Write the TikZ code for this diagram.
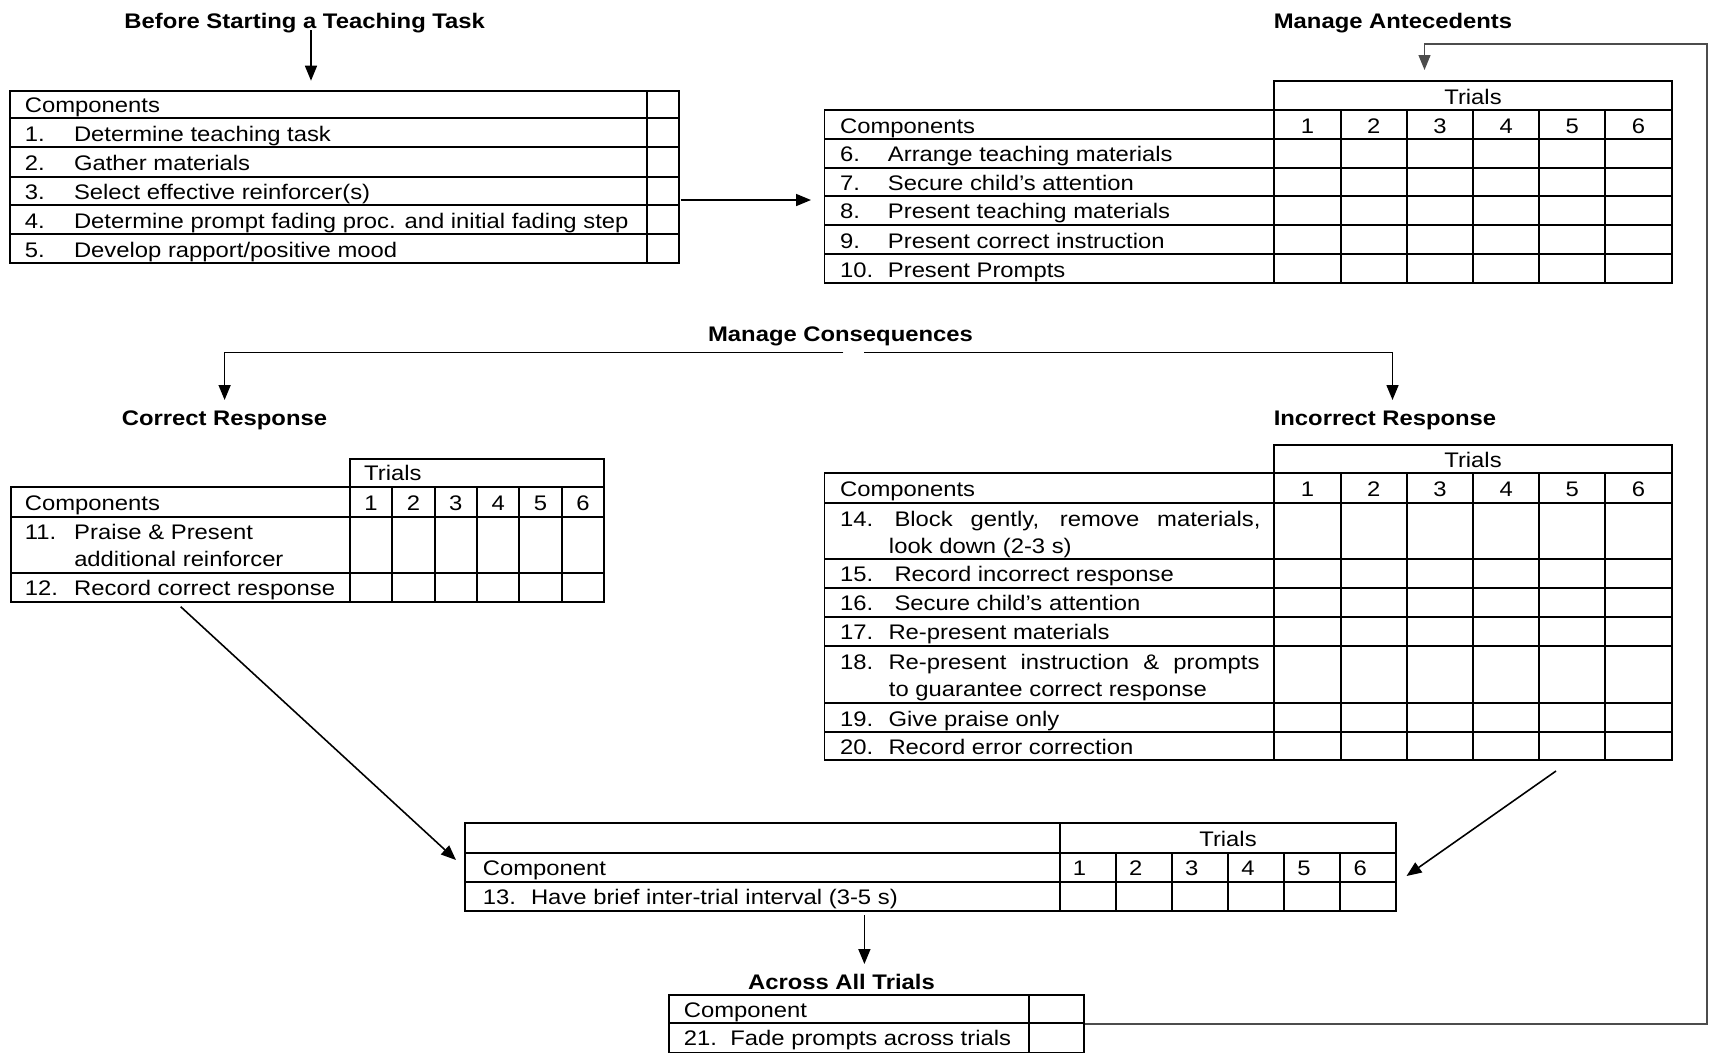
\documentclass[tikz,border=0pt]{standalone}
\usepackage{fontspec}
\setmainfont{Liberation Sans}[FakeStretch=1.13]
\usetikzlibrary{arrows.meta,fit}
\newcommand\compo[3][0.97cm]{\makebox[#1][l]{#2}#3}
\tikzset{
  tbl/.style={draw,line width=1.1pt,inner sep=0pt},
  cell/.style={line width=1.1pt},
  txt/.style={inner sep=0pt,anchor=base west,font=\fontsize{12}{15.9}\selectfont},
  num/.style={inner sep=0pt,anchor=base,font=\fontsize{12}{15.9}\selectfont},
  head/.style={inner sep=0pt,anchor=base,font=\fontsize{12}{15.9}\selectfont\bfseries},
  arr/.style={line width=0.9pt,-{Triangle[length=3mm,width=2.4mm]}},
  loopline/.style={line width=0.7pt,draw=black!70,-{Triangle[length=3mm,width=2.4mm]}}
}
\begin{document}
\begin{tikzpicture}[x=0.02cm,y=-0.02cm]
\fill[white] (0,0) rectangle (1716,1052);
\useasboundingbox (0,0) rectangle (1716,1052);

\node[head] (hBefore) at (304.7,28.3) {Before Starting a Teaching Task};
\node[head] (hAnte) at (1393,28.3) {Manage Antecedents};
\node[head] (hCons) at (840.5,341.7) {Manage Consequences};
\node[head] (hCorr) at (224.5,425) {Correct Response};
\node[head] (hInc) at (1385,425) {Incorrect Response};
\node[head] (hAll) at (841.4,989.3) {Across All Trials};

\node[tbl,fit={(9.8,90.7) (678.6,263.3)}] (tA) {};
\draw[cell] (647.3,90.7) -- (647.3,263.3);
\foreach \y in {118.3,147.3,176.7,205,234} \draw[cell] (9.8,\y) -- (678.6,\y);
\node[txt] at (24.5,112.5) {Components};
\node[txt] at (24.5,141.5) {\compo[0.984cm]{1.}{Determine teaching task}};
\node[txt] at (24.5,170.9) {\compo[0.984cm]{2.}{Gather materials}};
\node[txt] at (24.5,199.2) {\compo[0.984cm]{3.}{Select effective reinforcer(s)}};
\node[txt] at (24.5,228.2) {\compo[0.984cm]{4.}{Determine prompt fading proc. and initial fading step}};
\node[txt] at (24.5,257.5) {\compo[0.984cm]{5.}{Develop rapport/positive mood}};

\node[tbl,fit={(824.5,110) (1671.6,283.3)}] (tB) {};
\node[tbl,fit={(1274.4,80.7) (1671.6,110)}] (tBh) {};
\foreach \i in {0,...,5} \draw[cell] ({1274.4+66.2*\i},110) -- ({1274.4+66.2*\i},283.3);
\foreach \y in {139,167.7,196,224.7,254} \draw[cell] (824.5,\y) -- (1671.6,\y);
\node[num] at (1473,104.2) {Trials};
\foreach \i in {1,...,6} \node[num] at ({1274.4+66.2*\i-33.1},133.2) {\i};
\node[txt] at (839.7,133.2) {Components};
\node[txt] at (839.7,161.9) {\compo[0.958cm]{6.}{Arrange teaching materials}};
\node[txt] at (839.7,190.2) {\compo[0.958cm]{7.}{Secure child’s attention}};
\node[txt] at (839.7,218.9) {\compo[0.958cm]{8.}{Present teaching materials}};
\node[txt] at (839.7,248.2) {\compo[0.958cm]{9.}{Present correct instruction}};
\node[txt] at (839.7,277.5) {\compo[0.958cm]{10.}{Present Prompts}};

\node[tbl,fit={(10.7,486.7) (604.2,601.7)}] (tC) {};
\node[tbl,fit={(349.9,459) (604.2,486.7)}] (tCh) {};
\foreach \i in {0,...,5} \draw[cell] ({349.9+42.38*\i},486.7) -- ({349.9+42.38*\i},601.7);
\foreach \y in {516.7,572.7} \draw[cell] (10.7,\y) -- (604.2,\y);
\node[txt] at (363.8,480.9) {Trials};
\foreach \i in {1,...,6} \node[num] at ({349.9+42.38*\i-21.19},510.9) {\i};
\node[txt] at (24.5,510.9) {Components};
\node[txt] at (24.5,539.9) {\compo[0.988cm]{11.}{Praise \& Present}};
\node[txt] at (73.9,566.9) {additional reinforcer};
\node[txt] at (24.5,595.9) {\compo[0.988cm]{12.}{Record correct response}};

\node[tbl,fit={(824.5,473.3) (1671.6,760)}] (tD) {};
\node[tbl,fit={(1274.4,445) (1671.6,473.3)}] (tDh) {};
\foreach \i in {0,...,5} \draw[cell] ({1274.4+66.2*\i},473.3) -- ({1274.4+66.2*\i},760);
\foreach \y in {502.7,559,587.7,616.7,645.7,702.7,732} \draw[cell] (824.5,\y) -- (1671.6,\y);
\node[num] at (1473,467.5) {Trials};
\foreach \i in {1,...,6} \node[num] at ({1274.4+66.2*\i-33.1},496.9) {\i};
\node[txt] at (839.7,496.9) {Components};
\node[txt] at (839.7,526.2) {\compo[1.09cm]{14.}{\makebox[7.32cm][s]{Block gently, remove materials,}}};
\node[txt] at (888.6,553.2) {look down (2-3 s)};
\node[txt] at (839.7,581.9) {\compo[1.09cm]{15.}{Record incorrect response}};
\node[txt] at (839.7,610.9) {\compo[1.09cm]{16.}{Secure child’s attention}};
\node[txt] at (839.7,639.9) {\compo{17.}{Re-present materials}};
\node[txt] at (839.7,669.9) {\compo{18.}{\makebox[7.42cm][s]{Re-present instruction \& prompts}}};
\node[txt] at (888.6,696.9) {to guarantee correct response};
\node[txt] at (839.7,726.2) {\compo{19.}{Give praise only}};
\node[txt] at (839.7,754.2) {\compo{20.}{Record error correction}};

\node[tbl,fit={(465,823.3) (1396.3,910.7)}] (tE) {};
\draw[cell] (1059.6,823.3) -- (1059.6,910.7);
\foreach \i in {1,...,5} \draw[cell] ({1059.6+56.12*\i},852.7) -- ({1059.6+56.12*\i},910.7);
\foreach \y in {852.7,881.7} \draw[cell] (465,\y) -- (1396.3,\y);
\node[num] at (1228,846.9) {Trials};
\foreach \i in {1,...,6} \node[txt] at ({1059.6+56.12*\i-56.12+13},875.9) {\i};
\node[txt] at (482.5,875.9) {Component};
\node[txt] at (482.5,904.9) {\compo[0.964cm]{13.}{Have brief inter-trial interval (3-5 s)}};

\node[tbl,fit={(669,995) (1084,1053)}] (tF) {};
\draw[cell] (1029,995) -- (1029,1053);
\draw[cell] (669,1023.3) -- (1084,1023.3);
\node[txt] at (683.5,1017.5) {Component};
\node[txt] at (683.5,1045.8) {\compo[0.93cm]{21.}{Fade prompts across trials}};

\coordinate (bStart) at (311,30);
\coordinate (bEnd) at (311,80.7);
\coordinate (abStart) at (680.7,200);
\coordinate (abEnd) at (811,200);
\coordinate (loopR) at (1707,44);
\coordinate (loopEnd) at (1424.5,70);
\coordinate (consL) at (843.4,352.7);
\coordinate (consR) at (864.3,352.7);
\coordinate (corrTip) at (224.6,400);
\coordinate (incTip) at (1392.5,400);
\coordinate (cDiag) at (180.7,606.7);
\coordinate (cTip) at (456,860);
\coordinate (iDiag) at (1556,771);
\coordinate (iTip) at (1406.5,876);
\coordinate (eDown) at (864.4,915);
\coordinate (eTip) at (864.4,964);

\draw[arr] (bStart) -- (bEnd);
\draw[arr] (abStart) -- (abEnd);
\draw[loopline] (tF.east) -| (loopR) -| (loopEnd);
\draw[arr] (consL) -| (corrTip);
\draw[arr] (consR) -| (incTip);
\draw[arr] (cDiag) -- (cTip);
\draw[arr] (iDiag) -- (iTip);
\draw[arr] (eDown) -- (eTip);
\end{tikzpicture}
\end{document}
